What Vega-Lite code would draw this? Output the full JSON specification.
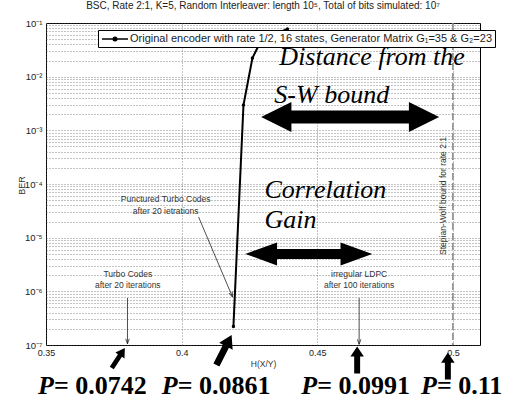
{
  "$schema": "https://vega.github.io/schema/vega-lite/v6.json",
  "width": 434,
  "height": 322,
  "autosize": {"type": "none"},
  "padding": {"left": 46, "top": 23, "right": 37, "bottom": 58},
  "background": "white",
  "title": {
    "text": "BSC, Rate 2:1, K=5, Random Interleaver: length 10⁵, Total of bits simulated: 10⁷",
    "fontSize": 10, "font": "Liberation Sans", "fontWeight": "normal", "color": "#222", "offset": 7, "anchor": "middle"
  },
  "config": {
    "view": {"stroke": "#000", "strokeWidth": 1},
    "font": "Liberation Sans",
    "legend": {"labelFontSize": 11},
    "axis": {
      "gridColor": "#555", "gridDash": [1, 2], "gridWidth": 0.7, "gridOpacity": 1,
      "domain": false, "ticks": false, "tickSize": 0,
      "labelFontSize": 9.5, "labelColor": "#222", "labelFont": "Liberation Sans",
      "titleFont": "Liberation Sans", "titleFontSize": 9, "titleFontWeight": "normal", "titleColor": "#333",
      "labelPadding": 4
    }
  },
  "datasets": {
    "curve": [
      {"H": 0.4191, "BER": 2.21e-7, "series": "Original encoder with rate 1/2, 16 states, Generator Matrix G₁=35 & G₂=23"},
      {"H": 0.4228, "BER": 2.96e-3, "series": "Original encoder with rate 1/2, 16 states, Generator Matrix G₁=35 & G₂=23"},
      {"H": 0.4261, "BER": 0.0223, "series": "Original encoder with rate 1/2, 16 states, Generator Matrix G₁=35 & G₂=23"},
      {"H": 0.4294, "BER": 0.0482, "series": "Original encoder with rate 1/2, 16 states, Generator Matrix G₁=35 & G₂=23"},
      {"H": 0.4390, "BER": 0.0773, "series": "Original encoder with rate 1/2, 16 states, Generator Matrix G₁=35 & G₂=23"}
    ],
    "bound": [{"H": 0.5, "text": "Stepian-Wolf bound for rate 2:1", "BER": 5.98e-5}],
    "notes": [
      {"H": 0.39412, "BER": 5.26e-5, "text": "Punctured Turbo Codes"},
      {"H": 0.39412, "BER": 3.14e-5, "text": "after 20 ietrations"},
      {"H": 0.38015, "BER": 2.10e-6, "text": "Turbo Codes"},
      {"H": 0.38015, "BER": 1.31e-6, "text": "after 20 iterations"},
      {"H": 0.46544, "BER": 2.10e-6, "text": "irregular LDPC"},
      {"H": 0.46544, "BER": 1.31e-6, "text": "after 100 iterations"}
    ],
    "pointers": [
      {"name": "punctured", "H": 0.40625, "BER": 2.43e-5, "H2": 0.41875, "BER2": 7.85e-7},
      {"name": "turbo", "H": 0.38004, "BER": 7.52e-7, "H2": 0.38004, "BER2": 1.05e-7},
      {"name": "ldpc", "H": 0.46544, "BER": 7.52e-7, "H2": 0.46544, "BER2": 1.03e-7}
    ],
    "gains": [
      {"name": "distance", "H": 0.46213, "BER": 1.772e-3},
      {"name": "correlation", "H": 0.44688, "BER": 4.97e-6}
    ],
    "marks": [
      {"name": "p0742", "H": 0.37666, "BER": 5.73e-8},
      {"name": "p0861", "H": 0.41563, "BER": 8.07e-8},
      {"name": "p0991", "H": 0.46471, "BER": 5.26e-8},
      {"name": "p11", "H": 0.49816, "BER": 4.06e-8}
    ],
    "headlines": [
      {"H": 0.43603, "BER": 0.01648, "text": "Distance from the"},
      {"H": 0.43419, "BER": 3.23e-3, "text": "S-W bound"},
      {"H": 0.43051, "BER": 5.48e-5, "text": "Correlation"},
      {"H": 0.43051, "BER": 1.51e-5, "text": "Gain"}
    ],
    "pletters": [
      {"H": 0.34706, "BER": 1.22e-8, "text": "P"},
      {"H": 0.39265, "BER": 1.22e-8, "text": "P"},
      {"H": 0.44412, "BER": 1.22e-8, "text": "P"},
      {"H": 0.48824, "BER": 1.22e-8, "text": "P"}
    ],
    "pvalues": [
      {"H": 0.35294, "BER": 1.22e-8, "text": "= 0.0742"},
      {"H": 0.39853, "BER": 1.22e-8, "text": "= 0.0861"},
      {"H": 0.45, "BER": 1.22e-8, "text": "= 0.0991"},
      {"H": 0.49412, "BER": 1.22e-8, "text": "= 0.11"}
    ]
  },
  "layer": [
    {
      "data": {"name": "curve"},
      "mark": {"type": "line", "strokeWidth": 2},
      "encoding": {
        "x": {
          "field": "H", "type": "quantitative",
          "scale": {"domain": [0.35, 0.51], "nice": false, "zero": false},
          "axis": {"values": [0.35, 0.4, 0.45, 0.5], "format": "~g", "title": "H(X/Y)", "titleFontSize": 8.5, "titleY": 18, "titleBaseline": "middle", "labelPadding": 3, "labelFlush": false, "labelFontSize": 9}
        },
        "y": {
          "field": "BER", "type": "quantitative",
          "scale": {"type": "log", "domain": [1e-7, 0.1], "nice": false},
          "axis": {
            "values": [1e-7, 2e-7, 3e-7, 4e-7, 5e-7, 6e-7, 7e-7, 8e-7, 9e-7,
                       1e-6, 2e-6, 3e-6, 4e-6, 5e-6, 6e-6, 7e-6, 8e-6, 9e-6,
                       1e-5, 2e-5, 3e-5, 4e-5, 5e-5, 6e-5, 7e-5, 8e-5, 9e-5,
                       1e-4, 2e-4, 3e-4, 4e-4, 5e-4, 6e-4, 7e-4, 8e-4, 9e-4,
                       1e-3, 2e-3, 3e-3, 4e-3, 5e-3, 6e-3, 7e-3, 8e-3, 9e-3,
                       1e-2, 2e-2, 3e-2, 4e-2, 5e-2, 6e-2, 7e-2, 8e-2, 9e-2, 0.1],
            "labelExpr": "abs(log(datum.value)/LN10 - round(log(datum.value)/LN10)) < 0.001 ? '10' + ['⁰','⁻¹','⁻²','⁻³','⁻⁴','⁻⁵','⁻⁶','⁻⁷'][-round(log(datum.value)/LN10)] : ''",
            "labelOverlap": false,
            "labelFlush": false,
            "title": "BER",
            "titleX": -25, "titleY": 162, "titleBaseline": "middle", "titleAlign": "center", "titleAngle": 270
          }
        },
        "color": {
          "field": "series", "type": "nominal",
          "scale": {"range": ["#000"]},
          "legend": {
            "orient": "none", "legendX": 52, "legendY": 7, "title": null,
            "fillColor": "white", "strokeColor": "#000", "padding": 3,
            "labelFontSize": 11, "labelFont": "Liberation Sans", "labelColor": "#222", "labelLimit": 0, "labelOffset": 9,
            "symbolType": "M-2.6,0L2.6,0M-0.35,0A0.35,0.35,0,1,1,0.35,0A0.35,0.35,0,1,1,-0.35,0Z",
            "symbolSize": 100, "symbolOffset": 8, "symbolStrokeWidth": 1.5, "symbolFillColor": "#000", "symbolStrokeColor": "#000"
          }
        }
      }
    },
    {
      "data": {"name": "curve"},
      "mark": {"type": "point", "filled": true, "size": 12, "color": "#000", "opacity": 1},
      "encoding": {
        "x": {"field": "H", "type": "quantitative"},
        "y": {"field": "BER", "type": "quantitative"}
      }
    },
    {
      "data": {"name": "bound"},
      "mark": {"type": "rule", "color": "#888", "strokeWidth": 1.5, "strokeDash": [7, 3]},
      "encoding": {"x": {"field": "H", "type": "quantitative"}}
    },
    {
      "data": {"name": "bound"},
      "mark": {"type": "text", "angle": 270, "fontSize": 8.5, "font": "Liberation Sans", "color": "#333", "align": "center", "baseline": "middle"},
      "encoding": {
        "x": {"value": 397},
        "y": {"field": "BER", "type": "quantitative"},
        "text": {"field": "text"}
      }
    },
    {
      "data": {"name": "pointers"},
      "mark": {"type": "rule", "color": "#222", "strokeWidth": 0.8},
      "encoding": {
        "x": {"field": "H", "type": "quantitative"},
        "y": {"field": "BER", "type": "quantitative"},
        "x2": {"field": "H2"},
        "y2": {"field": "BER2"}
      }
    },
    {
      "data": {"name": "pointers"},
      "transform": [{"filter": "datum.name !== 'punctured'"}],
      "mark": {"type": "point", "shape": "M-0.35,-1L0,0L0.35,-1", "filled": false, "size": 100, "color": "#222", "strokeWidth": 0.8, "opacity": 1},
      "encoding": {
        "x": {"field": "H2", "type": "quantitative"},
        "y": {"field": "BER2", "type": "quantitative"}
      }
    },
    {
      "data": {"name": "pointers"},
      "transform": [{"filter": "datum.name === 'punctured'"}],
      "mark": {"type": "point", "shape": "M-0.35,-1L0,0L0.35,-1", "filled": false, "size": 100, "color": "#222", "strokeWidth": 0.8, "angle": 337, "opacity": 1},
      "encoding": {
        "x": {"field": "H2", "type": "quantitative"},
        "y": {"field": "BER2", "type": "quantitative"}
      }
    },
    {
      "data": {"name": "notes"},
      "mark": {"type": "text", "fontSize": 8.5, "font": "Liberation Sans", "color": "#333", "align": "center", "baseline": "middle"},
      "encoding": {
        "x": {"field": "H", "type": "quantitative"},
        "y": {"field": "BER", "type": "quantitative"},
        "text": {"field": "text"}
      }
    },
    {
      "data": {"name": "gains"},
      "transform": [{"filter": "datum.name === 'distance'"}],
      "mark": {"type": "point", "shape": "M-1,0L-0.66,-0.169L-0.66,-0.073L0.66,-0.073L0.66,-0.169L1,0L0.66,0.169L0.66,0.073L-0.66,0.073L-0.66,0.169Z", "filled": true, "size": 31684, "color": "#000", "opacity": 1},
      "encoding": {
        "x": {"field": "H", "type": "quantitative"},
        "y": {"field": "BER", "type": "quantitative"}
      }
    },
    {
      "data": {"name": "gains"},
      "transform": [{"filter": "datum.name === 'correlation'"}],
      "mark": {"type": "point", "shape": "M-1,0L-0.5,-0.181L-0.5,-0.079L0.5,-0.079L0.5,-0.181L1,0L0.5,0.181L0.5,0.079L-0.5,0.079L-0.5,0.181Z", "filled": true, "size": 16129, "color": "#000", "opacity": 1},
      "encoding": {
        "x": {"field": "H", "type": "quantitative"},
        "y": {"field": "BER", "type": "quantitative"}
      }
    },
    {
      "data": {"name": "marks"},
      "transform": [{"filter": "datum.name === 'p0742'"}],
      "mark": {"type": "point", "shape": "M0,-1L0.45,-0.25L0.2,-0.25L0.2,1L-0.2,1L-0.2,-0.25L-0.45,-0.25Z", "filled": true, "size": 576, "angle": 33, "color": "#000", "opacity": 1},
      "encoding": {
        "x": {"field": "H", "type": "quantitative"},
        "y": {"field": "BER", "type": "quantitative"}
      }
    },
    {
      "data": {"name": "marks"},
      "transform": [{"filter": "datum.name === 'p0861'"}],
      "mark": {"type": "point", "shape": "M0,-1L0.45,-0.25L0.2,-0.25L0.2,1L-0.2,1L-0.2,-0.25L-0.45,-0.25Z", "filled": true, "size": 1122, "angle": 27, "color": "#000", "opacity": 1},
      "encoding": {
        "x": {"field": "H", "type": "quantitative"},
        "y": {"field": "BER", "type": "quantitative"}
      }
    },
    {
      "data": {"name": "marks"},
      "transform": [{"filter": "datum.name === 'p0991' || datum.name === 'p11'"}],
      "mark": {"type": "point", "shape": "M0,-1L0.5,-0.25L0.22,-0.25L0.22,1L-0.22,1L-0.22,-0.25L-0.5,-0.25Z", "filled": true, "size": 729, "color": "#000", "opacity": 1},
      "encoding": {
        "x": {"field": "H", "type": "quantitative"},
        "y": {"field": "BER", "type": "quantitative"}
      }
    },
    {
      "data": {"name": "headlines"},
      "mark": {"type": "text", "font": "Liberation Serif", "fontStyle": "italic", "fontSize": 26, "color": "#000", "align": "left", "baseline": "alphabetic"},
      "encoding": {
        "x": {"field": "H", "type": "quantitative"},
        "y": {"field": "BER", "type": "quantitative"},
        "text": {"field": "text"}
      }
    },
    {
      "data": {"name": "pletters"},
      "mark": {"type": "text", "font": "Liberation Serif", "fontStyle": "italic", "fontWeight": "bold", "fontSize": 26, "color": "#000", "align": "left", "baseline": "alphabetic"},
      "encoding": {
        "x": {"field": "H", "type": "quantitative"},
        "y": {"field": "BER", "type": "quantitative"},
        "text": {"field": "text"}
      }
    },
    {
      "data": {"name": "pvalues"},
      "mark": {"type": "text", "font": "Liberation Serif", "fontWeight": "bold", "fontSize": 26, "color": "#000", "align": "left", "baseline": "alphabetic"},
      "encoding": {
        "x": {"field": "H", "type": "quantitative"},
        "y": {"field": "BER", "type": "quantitative"},
        "text": {"field": "text"}
      }
    }
  ]
}
